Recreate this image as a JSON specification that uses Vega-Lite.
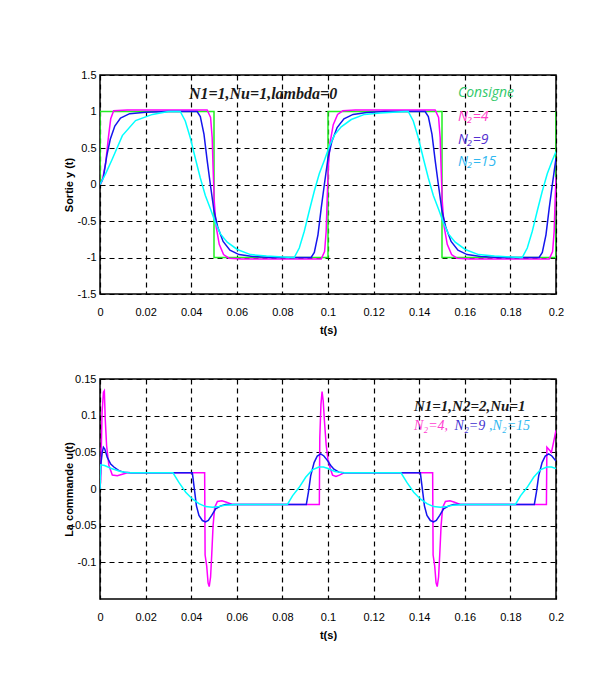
{
  "$schema": "https://vega.github.io/schema/vega-lite/v6.json",
  "background": "white",
  "padding": {"left": 62, "top": 68, "right": 10, "bottom": 5},
  "spacing": 36,
  "datasets": {
    "y": [
      {"t":0,"v":0,"s":"Consigne"},{"t":0,"v":1,"s":"Consigne"},{"t":0.05,"v":1,"s":"Consigne"},{"t":0.05,"v":-1,"s":"Consigne"},{"t":0.1,"v":-1,"s":"Consigne"},{"t":0.1,"v":1,"s":"Consigne"},{"t":0.15,"v":1,"s":"Consigne"},{"t":0.15,"v":-1,"s":"Consigne"},{"t":0.2,"v":-1,"s":"Consigne"},{"t":0.2,"v":1,"s":"Consigne"},
      {"t":0,"v":0,"s":"N2=4"},{"t":0.001,"v":0.05,"s":"N2=4"},{"t":0.0025,"v":0.3,"s":"N2=4"},{"t":0.0037,"v":0.65,"s":"N2=4"},{"t":0.0047,"v":0.9,"s":"N2=4"},{"t":0.006,"v":1.01,"s":"N2=4"},{"t":0.012,"v":1.02,"s":"N2=4"},
      {"t":0.047,"v":1.02,"s":"N2=4"},{"t":0.0485,"v":0.92,"s":"N2=4"},{"t":0.0492,"v":0.64,"s":"N2=4"},{"t":0.0496,"v":0.23,"s":"N2=4"},{"t":0.0501,"v":-0.22,"s":"N2=4"},{"t":0.0509,"v":-0.57,"s":"N2=4"},{"t":0.0523,"v":-0.82,"s":"N2=4"},{"t":0.0542,"v":-0.96,"s":"N2=4"},{"t":0.0565,"v":-1.01,"s":"N2=4"},{"t":0.062,"v":-1.02,"s":"N2=4"},
      {"t":0.097,"v":-1.02,"s":"N2=4"},{"t":0.0985,"v":-0.92,"s":"N2=4"},{"t":0.0992,"v":-0.64,"s":"N2=4"},{"t":0.0996,"v":-0.23,"s":"N2=4"},{"t":0.1001,"v":0.22,"s":"N2=4"},{"t":0.1009,"v":0.57,"s":"N2=4"},{"t":0.1023,"v":0.82,"s":"N2=4"},{"t":0.1042,"v":0.96,"s":"N2=4"},{"t":0.1065,"v":1.01,"s":"N2=4"},{"t":0.112,"v":1.02,"s":"N2=4"},
      {"t":0.147,"v":1.02,"s":"N2=4"},{"t":0.1485,"v":0.92,"s":"N2=4"},{"t":0.1492,"v":0.64,"s":"N2=4"},{"t":0.1496,"v":0.23,"s":"N2=4"},{"t":0.1501,"v":-0.22,"s":"N2=4"},{"t":0.1509,"v":-0.57,"s":"N2=4"},{"t":0.1523,"v":-0.82,"s":"N2=4"},{"t":0.1542,"v":-0.96,"s":"N2=4"},{"t":0.1565,"v":-1.01,"s":"N2=4"},{"t":0.162,"v":-1.02,"s":"N2=4"},
      {"t":0.197,"v":-1.02,"s":"N2=4"},{"t":0.1985,"v":-0.92,"s":"N2=4"},{"t":0.1992,"v":-0.64,"s":"N2=4"},{"t":0.1996,"v":-0.23,"s":"N2=4"},{"t":0.2,"v":0.1,"s":"N2=4"},
      {"t":0,"v":0,"s":"N2=9"},{"t":0.0015,"v":0.1,"s":"N2=9"},{"t":0.003,"v":0.4,"s":"N2=9"},{"t":0.0045,"v":0.62,"s":"N2=9"},{"t":0.0065,"v":0.8,"s":"N2=9"},{"t":0.009,"v":0.91,"s":"N2=9"},{"t":0.013,"v":0.97,"s":"N2=9"},{"t":0.02,"v":0.99,"s":"N2=9"},{"t":0.03,"v":1.0,"s":"N2=9"},
      {"t":0.0426,"v":1.0,"s":"N2=9"},{"t":0.044,"v":0.93,"s":"N2=9"},{"t":0.0456,"v":0.69,"s":"N2=9"},{"t":0.047,"v":0.33,"s":"N2=9"},{"t":0.0484,"v":0.0,"s":"N2=9"},{"t":0.05,"v":-0.36,"s":"N2=9"},{"t":0.0517,"v":-0.59,"s":"N2=9"},{"t":0.054,"v":-0.78,"s":"N2=9"},{"t":0.057,"v":-0.9,"s":"N2=9"},{"t":0.061,"v":-0.96,"s":"N2=9"},{"t":0.067,"v":-0.985,"s":"N2=9"},{"t":0.075,"v":-1.0,"s":"N2=9"},
      {"t":0.0926,"v":-1.0,"s":"N2=9"},{"t":0.094,"v":-0.93,"s":"N2=9"},{"t":0.0956,"v":-0.69,"s":"N2=9"},{"t":0.097,"v":-0.33,"s":"N2=9"},{"t":0.0984,"v":0.0,"s":"N2=9"},{"t":0.1,"v":0.36,"s":"N2=9"},{"t":0.1017,"v":0.59,"s":"N2=9"},{"t":0.104,"v":0.78,"s":"N2=9"},{"t":0.107,"v":0.9,"s":"N2=9"},{"t":0.111,"v":0.96,"s":"N2=9"},{"t":0.117,"v":0.985,"s":"N2=9"},{"t":0.125,"v":1.0,"s":"N2=9"},
      {"t":0.1426,"v":1.0,"s":"N2=9"},{"t":0.144,"v":0.93,"s":"N2=9"},{"t":0.1456,"v":0.69,"s":"N2=9"},{"t":0.147,"v":0.33,"s":"N2=9"},{"t":0.1484,"v":0.0,"s":"N2=9"},{"t":0.15,"v":-0.36,"s":"N2=9"},{"t":0.1517,"v":-0.59,"s":"N2=9"},{"t":0.154,"v":-0.78,"s":"N2=9"},{"t":0.157,"v":-0.9,"s":"N2=9"},{"t":0.161,"v":-0.96,"s":"N2=9"},{"t":0.167,"v":-0.985,"s":"N2=9"},{"t":0.175,"v":-1.0,"s":"N2=9"},
      {"t":0.1926,"v":-1.0,"s":"N2=9"},{"t":0.194,"v":-0.93,"s":"N2=9"},{"t":0.1956,"v":-0.69,"s":"N2=9"},{"t":0.197,"v":-0.33,"s":"N2=9"},{"t":0.1984,"v":0.0,"s":"N2=9"},{"t":0.2,"v":0.36,"s":"N2=9"},
      {"t":0,"v":0,"s":"N2=15"},{"t":0.0025,"v":0.15,"s":"N2=15"},{"t":0.0054,"v":0.35,"s":"N2=15"},{"t":0.0098,"v":0.67,"s":"N2=15"},{"t":0.0156,"v":0.875,"s":"N2=15"},{"t":0.023,"v":0.96,"s":"N2=15"},{"t":0.03,"v":1.0,"s":"N2=15"},
      {"t":0.0352,"v":1.0,"s":"N2=15"},{"t":0.0374,"v":0.87,"s":"N2=15"},{"t":0.0396,"v":0.64,"s":"N2=15"},{"t":0.0418,"v":0.36,"s":"N2=15"},{"t":0.044,"v":0.09,"s":"N2=15"},{"t":0.0462,"v":-0.15,"s":"N2=15"},{"t":0.0485,"v":-0.34,"s":"N2=15"},{"t":0.0507,"v":-0.53,"s":"N2=15"},{"t":0.0529,"v":-0.68,"s":"N2=15"},{"t":0.0558,"v":-0.79,"s":"N2=15"},{"t":0.0602,"v":-0.89,"s":"N2=15"},{"t":0.066,"v":-0.96,"s":"N2=15"},{"t":0.073,"v":-0.98,"s":"N2=15"},{"t":0.084,"v":-1.0,"s":"N2=15"},
      {"t":0.0852,"v":-1.0,"s":"N2=15"},{"t":0.0874,"v":-0.87,"s":"N2=15"},{"t":0.0896,"v":-0.64,"s":"N2=15"},{"t":0.0918,"v":-0.36,"s":"N2=15"},{"t":0.094,"v":-0.09,"s":"N2=15"},{"t":0.0962,"v":0.15,"s":"N2=15"},{"t":0.0985,"v":0.34,"s":"N2=15"},{"t":0.1007,"v":0.53,"s":"N2=15"},{"t":0.1029,"v":0.68,"s":"N2=15"},{"t":0.1058,"v":0.79,"s":"N2=15"},{"t":0.1102,"v":0.89,"s":"N2=15"},{"t":0.116,"v":0.96,"s":"N2=15"},{"t":0.123,"v":0.98,"s":"N2=15"},{"t":0.134,"v":1.0,"s":"N2=15"},
      {"t":0.1352,"v":1.0,"s":"N2=15"},{"t":0.1374,"v":0.87,"s":"N2=15"},{"t":0.1396,"v":0.64,"s":"N2=15"},{"t":0.1418,"v":0.36,"s":"N2=15"},{"t":0.144,"v":0.09,"s":"N2=15"},{"t":0.1462,"v":-0.15,"s":"N2=15"},{"t":0.1485,"v":-0.34,"s":"N2=15"},{"t":0.1507,"v":-0.53,"s":"N2=15"},{"t":0.1529,"v":-0.68,"s":"N2=15"},{"t":0.1558,"v":-0.79,"s":"N2=15"},{"t":0.1602,"v":-0.89,"s":"N2=15"},{"t":0.166,"v":-0.96,"s":"N2=15"},{"t":0.173,"v":-0.98,"s":"N2=15"},{"t":0.184,"v":-1.0,"s":"N2=15"},
      {"t":0.1852,"v":-1.0,"s":"N2=15"},{"t":0.1874,"v":-0.87,"s":"N2=15"},{"t":0.1896,"v":-0.64,"s":"N2=15"},{"t":0.1918,"v":-0.36,"s":"N2=15"},{"t":0.194,"v":-0.09,"s":"N2=15"},{"t":0.1962,"v":0.15,"s":"N2=15"},{"t":0.1985,"v":0.34,"s":"N2=15"},{"t":0.2,"v":0.45,"s":"N2=15"}
    ],
    "u": [
      {"t":0,"v":0,"s":"N2=4"},{"t":0.0003,"v":0.014,"s":"N2=4"},{"t":0.0009,"v":0.104,"s":"N2=4"},{"t":0.0015,"v":0.132,"s":"N2=4"},{"t":0.0019,"v":0.134,"s":"N2=4"},{"t":0.0023,"v":0.095,"s":"N2=4"},{"t":0.0029,"v":0.059,"s":"N2=4"},{"t":0.0039,"v":0.032,"s":"N2=4"},{"t":0.0054,"v":0.019,"s":"N2=4"},{"t":0.0076,"v":0.018,"s":"N2=4"},{"t":0.0098,"v":0.02,"s":"N2=4"},{"t":0.012,"v":0.022,"s":"N2=4"},
      {"t":0.0459,"v":0.022,"s":"N2=4"},{"t":0.0461,"v":-0.09,"s":"N2=4"},{"t":0.0468,"v":-0.105,"s":"N2=4"},{"t":0.0474,"v":-0.128,"s":"N2=4"},{"t":0.0479,"v":-0.133,"s":"N2=4"},{"t":0.0485,"v":-0.12,"s":"N2=4"},{"t":0.049,"v":-0.09,"s":"N2=4"},{"t":0.0496,"v":-0.05,"s":"N2=4"},{"t":0.0503,"v":-0.025,"s":"N2=4"},{"t":0.0515,"v":-0.017,"s":"N2=4"},{"t":0.0535,"v":-0.016,"s":"N2=4"},{"t":0.0555,"v":-0.018,"s":"N2=4"},{"t":0.058,"v":-0.021,"s":"N2=4"},
      {"t":0.0962,"v":-0.021,"s":"N2=4"},{"t":0.0964,"v":0.07,"s":"N2=4"},{"t":0.0969,"v":0.115,"s":"N2=4"},{"t":0.0974,"v":0.133,"s":"N2=4"},{"t":0.0979,"v":0.12,"s":"N2=4"},{"t":0.0985,"v":0.09,"s":"N2=4"},{"t":0.0992,"v":0.06,"s":"N2=4"},{"t":0.1,"v":0.04,"s":"N2=4"},{"t":0.101,"v":0.028,"s":"N2=4"},{"t":0.102,"v":0.019,"s":"N2=4"},{"t":0.1035,"v":0.017,"s":"N2=4"},{"t":0.105,"v":0.019,"s":"N2=4"},{"t":0.107,"v":0.022,"s":"N2=4"},
      {"t":0.1459,"v":0.022,"s":"N2=4"},{"t":0.1461,"v":-0.09,"s":"N2=4"},{"t":0.1468,"v":-0.105,"s":"N2=4"},{"t":0.1474,"v":-0.128,"s":"N2=4"},{"t":0.1479,"v":-0.133,"s":"N2=4"},{"t":0.1485,"v":-0.12,"s":"N2=4"},{"t":0.149,"v":-0.09,"s":"N2=4"},{"t":0.1496,"v":-0.05,"s":"N2=4"},{"t":0.1503,"v":-0.025,"s":"N2=4"},{"t":0.1515,"v":-0.017,"s":"N2=4"},{"t":0.1535,"v":-0.016,"s":"N2=4"},{"t":0.1555,"v":-0.018,"s":"N2=4"},{"t":0.158,"v":-0.021,"s":"N2=4"},
      {"t":0.1958,"v":-0.021,"s":"N2=4"},{"t":0.196,"v":0.057,"s":"N2=4"},{"t":0.198,"v":0.05,"s":"N2=4"},{"t":0.2,"v":0.08,"s":"N2=4"},
      {"t":0,"v":0,"s":"N2=9"},{"t":0.0003,"v":0.032,"s":"N2=9"},{"t":0.001,"v":0.05,"s":"N2=9"},{"t":0.0015,"v":0.057,"s":"N2=9"},{"t":0.0021,"v":0.0545,"s":"N2=9"},{"t":0.0032,"v":0.043,"s":"N2=9"},{"t":0.0047,"v":0.034,"s":"N2=9"},{"t":0.0061,"v":0.03,"s":"N2=9"},{"t":0.0083,"v":0.025,"s":"N2=9"},{"t":0.0105,"v":0.023,"s":"N2=9"},{"t":0.0135,"v":0.022,"s":"N2=9"},
      {"t":0.0405,"v":0.022,"s":"N2=9"},{"t":0.0412,"v":0.0045,"s":"N2=9"},{"t":0.0423,"v":-0.023,"s":"N2=9"},{"t":0.0434,"v":-0.036,"s":"N2=9"},{"t":0.0449,"v":-0.043,"s":"N2=9"},{"t":0.0463,"v":-0.045,"s":"N2=9"},{"t":0.0475,"v":-0.043,"s":"N2=9"},{"t":0.049,"v":-0.036,"s":"N2=9"},{"t":0.0507,"v":-0.027,"s":"N2=9"},{"t":0.053,"v":-0.023,"s":"N2=9"},{"t":0.0551,"v":-0.021,"s":"N2=9"},
      {"t":0.0905,"v":-0.021,"s":"N2=9"},{"t":0.0914,"v":-0.0045,"s":"N2=9"},{"t":0.0924,"v":0.018,"s":"N2=9"},{"t":0.0939,"v":0.036,"s":"N2=9"},{"t":0.0953,"v":0.045,"s":"N2=9"},{"t":0.0968,"v":0.048,"s":"N2=9"},{"t":0.0982,"v":0.045,"s":"N2=9"},{"t":0.0997,"v":0.039,"s":"N2=9"},{"t":0.1012,"v":0.032,"s":"N2=9"},{"t":0.1026,"v":0.027,"s":"N2=9"},{"t":0.1048,"v":0.023,"s":"N2=9"},{"t":0.107,"v":0.022,"s":"N2=9"},
      {"t":0.1405,"v":0.022,"s":"N2=9"},{"t":0.1412,"v":0.0045,"s":"N2=9"},{"t":0.1423,"v":-0.023,"s":"N2=9"},{"t":0.1434,"v":-0.036,"s":"N2=9"},{"t":0.1449,"v":-0.043,"s":"N2=9"},{"t":0.1463,"v":-0.045,"s":"N2=9"},{"t":0.1475,"v":-0.043,"s":"N2=9"},{"t":0.149,"v":-0.036,"s":"N2=9"},{"t":0.1507,"v":-0.027,"s":"N2=9"},{"t":0.153,"v":-0.023,"s":"N2=9"},{"t":0.1551,"v":-0.021,"s":"N2=9"},
      {"t":0.1905,"v":-0.021,"s":"N2=9"},{"t":0.1914,"v":-0.0045,"s":"N2=9"},{"t":0.1924,"v":0.018,"s":"N2=9"},{"t":0.1939,"v":0.036,"s":"N2=9"},{"t":0.1953,"v":0.045,"s":"N2=9"},{"t":0.1968,"v":0.048,"s":"N2=9"},{"t":0.1982,"v":0.045,"s":"N2=9"},{"t":0.2,"v":0.038,"s":"N2=9"},
      {"t":0,"v":0,"s":"N2=15"},{"t":0.0003,"v":0.033,"s":"N2=15"},{"t":0.002,"v":0.032,"s":"N2=15"},{"t":0.005,"v":0.028,"s":"N2=15"},{"t":0.009,"v":0.024,"s":"N2=15"},{"t":0.013,"v":0.022,"s":"N2=15"},
      {"t":0.032,"v":0.022,"s":"N2=15"},{"t":0.0346,"v":0.009,"s":"N2=15"},{"t":0.0376,"v":-0.0045,"s":"N2=15"},{"t":0.0405,"v":-0.0136,"s":"N2=15"},{"t":0.0434,"v":-0.02,"s":"N2=15"},{"t":0.0463,"v":-0.024,"s":"N2=15"},{"t":0.0493,"v":-0.025,"s":"N2=15"},{"t":0.0522,"v":-0.024,"s":"N2=15"},{"t":0.0551,"v":-0.022,"s":"N2=15"},{"t":0.0595,"v":-0.021,"s":"N2=15"},
      {"t":0.0822,"v":-0.021,"s":"N2=15"},{"t":0.0845,"v":-0.009,"s":"N2=15"},{"t":0.0873,"v":0.002,"s":"N2=15"},{"t":0.0902,"v":0.016,"s":"N2=15"},{"t":0.0931,"v":0.026,"s":"N2=15"},{"t":0.096,"v":0.03,"s":"N2=15"},{"t":0.098,"v":0.03,"s":"N2=15"},{"t":0.1,"v":0.028,"s":"N2=15"},{"t":0.103,"v":0.024,"s":"N2=15"},{"t":0.107,"v":0.022,"s":"N2=15"},
      {"t":0.132,"v":0.022,"s":"N2=15"},{"t":0.1346,"v":0.009,"s":"N2=15"},{"t":0.1376,"v":-0.0045,"s":"N2=15"},{"t":0.1405,"v":-0.0136,"s":"N2=15"},{"t":0.1434,"v":-0.02,"s":"N2=15"},{"t":0.1463,"v":-0.024,"s":"N2=15"},{"t":0.1493,"v":-0.025,"s":"N2=15"},{"t":0.1522,"v":-0.024,"s":"N2=15"},{"t":0.1551,"v":-0.022,"s":"N2=15"},{"t":0.1595,"v":-0.021,"s":"N2=15"},
      {"t":0.1822,"v":-0.021,"s":"N2=15"},{"t":0.1845,"v":-0.009,"s":"N2=15"},{"t":0.1873,"v":0.002,"s":"N2=15"},{"t":0.1902,"v":0.016,"s":"N2=15"},{"t":0.1931,"v":0.026,"s":"N2=15"},{"t":0.196,"v":0.03,"s":"N2=15"},{"t":0.198,"v":0.03,"s":"N2=15"},{"t":0.2,"v":0.028,"s":"N2=15"}
    ],
    "leg1": [
      {"t":0.157,"v":1.253,"label":"Consigne","s":"Consigne"},
      {"t":0.157,"v":0.929,"label":"N\u2082=4","s":"N2=4"},
      {"t":0.157,"v":0.61,"label":"N\u2082=9","s":"N2=9"},
      {"t":0.157,"v":0.312,"label":"N\u2082=15","s":"N2=15"}
    ],
    "leg2": [
      {"t":0.1377,"v":0.0864,"label":"N\u2082=4,","s":"N2=4"},
      {"t":0.1555,"v":0.0864,"label":"N\u2082=9","s":"N2=9"},
      {"t":0.1706,"v":0.0864,"label":",N\u2082=15","s":"N2=15"}
    ]
  },
  "vconcat": [
    {
      "width": 456, "height": 219,
      "resolve": {"scale": {"color": "independent"}},
      "layer": [
        {
          "data": {"name": "y"},
          "mark": {"type": "line", "strokeWidth": 1.5, "clip": true},
          "encoding": {
            "x": {"field": "t", "type": "quantitative", "scale": {"domain": [0, 0.2], "nice": false},
                  "axis": {"values": [0,0.02,0.04,0.06,0.08,0.1,0.12,0.14,0.16,0.18,0.2], "tickCount": 30, "labelExpr": "format(datum.value, '.2~f')", "labelOverlap": false, "title": "t(s)", "titleY": 36, "titleBaseline": "middle", "labelPadding": 12}},
            "y": {"field": "v", "type": "quantitative", "scale": {"domain": [-1.5, 1.5], "nice": false},
                  "axis": {"values": [-1.5,-1,-0.5,0,0.5,1,1.5], "tickCount": 30, "labelExpr": "replace(format(datum.value, '.1~f'), '\u2212', '-')", "labelOverlap": false, "title": "Sortie y (t)", "titleX": -31, "titleBaseline": "middle"}},
            "color": {"field": "s", "type": "nominal", "legend": null,
                      "scale": {"domain": ["Consigne","N2=4","N2=9","N2=15"], "range": ["#22ee22","#ff00ff","#1515ee","#00ffff"]}},
            "order": {"value": null}
          }
        },
        {
          "data": {"values": [{"t": 0.0715, "v": 1.24, "label": "N1=1,Nu=1,lambda=0"}]},
          "mark": {"type": "text", "font": "Liberation Serif", "fontStyle": "italic", "fontWeight": "bold", "fontSize": 16, "color": "#1a1a1a", "align": "center", "baseline": "middle"},
          "encoding": {
            "x": {"field": "t", "type": "quantitative"},
            "y": {"field": "v", "type": "quantitative"},
            "text": {"field": "label"}
          }
        },
        {
          "data": {"name": "leg1"},
          "mark": {"type": "text", "font": "Open Sans", "fontStyle": "italic", "fontSize": 14, "align": "left", "baseline": "middle"},
          "encoding": {
            "x": {"field": "t", "type": "quantitative"},
            "y": {"field": "v", "type": "quantitative"},
            "text": {"field": "label"},
            "color": {"field": "s", "type": "nominal", "legend": null,
                      "scale": {"domain": ["Consigne","N2=4","N2=9","N2=15"], "range": ["#33c96b","#ff40c8","#5530d0","#30b8f0"]}}
          }
        }
      ]
    },
    {
      "width": 456, "height": 220,
      "resolve": {"scale": {"color": "independent"}},
      "layer": [
        {
          "data": {"name": "u"},
          "mark": {"type": "line", "strokeWidth": 1.5, "clip": true},
          "encoding": {
            "x": {"field": "t", "type": "quantitative", "scale": {"domain": [0, 0.2], "nice": false},
                  "axis": {"values": [0,0.02,0.04,0.06,0.08,0.1,0.12,0.14,0.16,0.18,0.2], "tickCount": 30, "labelExpr": "format(datum.value, '.2~f')", "labelOverlap": false, "title": "t(s)", "titleY": 36, "titleBaseline": "middle", "labelPadding": 12}},
            "y": {"field": "v", "type": "quantitative", "scale": {"domain": [-0.15, 0.15], "nice": false},
                  "axis": {"values": [-0.1,-0.05,0,0.05,0.1,0.15], "tickCount": 30, "labelExpr": "replace(format(datum.value, '.2~f'), '\u2212', '-')", "labelOverlap": false, "title": "La commande u(t)", "titleX": -31, "titleBaseline": "middle"}},
            "color": {"field": "s", "type": "nominal", "legend": null,
                      "scale": {"domain": ["N2=4","N2=9","N2=15"], "range": ["#ff00ff","#1515ee","#00ffff"]}},
            "order": {"value": null}
          }
        },
        {
          "data": {"values": [{"t": 0.1377, "v": 0.1136, "label": "N1=1,N2=2,Nu=1"}]},
          "mark": {"type": "text", "font": "Liberation Serif", "fontStyle": "italic", "fontWeight": "bold", "fontSize": 15, "color": "#1a1a1a", "align": "left", "baseline": "middle"},
          "encoding": {
            "x": {"field": "t", "type": "quantitative"},
            "y": {"field": "v", "type": "quantitative"},
            "text": {"field": "label"}
          }
        },
        {
          "data": {"name": "leg2"},
          "mark": {"type": "text", "font": "Liberation Serif", "fontStyle": "italic", "fontSize": 14, "align": "left", "baseline": "middle"},
          "encoding": {
            "x": {"field": "t", "type": "quantitative"},
            "y": {"field": "v", "type": "quantitative"},
            "text": {"field": "label"},
            "color": {"field": "s", "type": "nominal", "legend": null,
                      "scale": {"domain": ["N2=4","N2=9","N2=15"], "range": ["#ff40d0","#4030d0","#30b8f0"]}}
          }
        }
      ]
    }
  ],
  "config": {
    "view": {"stroke": "#000", "strokeWidth": 1.5},
    "axis": {
      "domain": false, "ticks": false, "tickSize": 0,
      "grid": true, "gridColor": "#000", "gridDash": [5, 4], "gridWidth": 1.2, "gridOpacity": 1,
      "labelFont": "Liberation Sans Narrow, Liberation Sans", "labelFontSize": 11, "labelColor": "#000",
      "labelFlush": false, "labelOverlap": false, "labelBound": false, "labelPadding": 4,
      "titleFont": "Liberation Sans", "titleFontSize": 11, "titleFontWeight": "bold", "titleColor": "#000"
    }
  }
}
